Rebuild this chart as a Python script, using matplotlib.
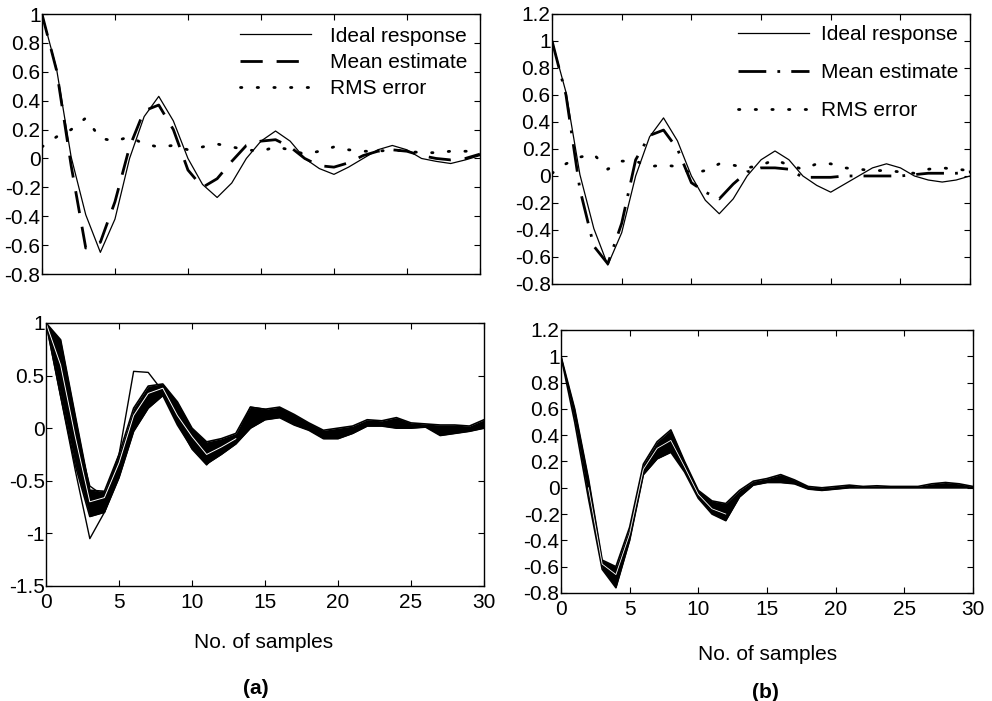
import matplotlib
matplotlib.use("Agg")
import matplotlib.pyplot as plt
from matplotlib.ticker import FormatStrFormatter, MultipleLocator

plt.rcParams['font.family'] = ['Liberation Sans', 'DejaVu Sans']
plt.rcParams['axes.unicode_minus'] = False

# sample index 0..30
n = list(range(31))

# ideal impulse response
ideal = [1.0, 0.62, 0.01, -0.39, -0.65, -0.42, 0.0, 0.29, 0.43, 0.26, 0.0,
         -0.18, -0.27, -0.17, 0.0, 0.12, 0.19, 0.12, 0.0, -0.07, -0.11,
         -0.06, 0.0, 0.06, 0.09, 0.06, 0.0, -0.02, -0.035, -0.01, 0.02]

# (a) mean estimate and RMS error
mean_a = [1.0, 0.61, -0.05, -0.62, -0.58, -0.3, 0.08, 0.33, 0.37, 0.2, -0.08,
          -0.2, -0.14, -0.02, 0.09, 0.12, 0.13, 0.08, 0.0, -0.05, -0.06,
          -0.03, 0.02, 0.05, 0.06, 0.05, 0.02, 0.0, -0.01, 0.0, 0.03]
rms_a = [0.08, 0.15, 0.2, 0.28, 0.14, 0.12, 0.15, 0.1, 0.08, 0.09, 0.06,
         0.08, 0.1, 0.08, 0.06, 0.05, 0.08, 0.06, 0.03, 0.05, 0.08,
         0.06, 0.05, 0.05, 0.06, 0.05, 0.04, 0.04, 0.05, 0.05, 0.05]

# (b) ideal, mean estimate and RMS error
ideal_b = [1.0, 0.62, 0.01, -0.39, -0.66, -0.42, 0.0, 0.29, 0.43, 0.26, 0.0,
           -0.18, -0.28, -0.17, 0.0, 0.12, 0.185, 0.12, 0.0, -0.07, -0.12,
           -0.06, 0.0, 0.06, 0.09, 0.06, 0.0, -0.03, -0.045, -0.03, 0.0]
mean_b = [1.0, 0.6, -0.1, -0.52, -0.65, -0.35, 0.12, 0.3, 0.34, 0.2, -0.05,
          -0.12, -0.17, -0.06, 0.03, 0.06, 0.06, 0.05, -0.01, -0.01, -0.01,
          0.0, 0.0, 0.0, 0.0, 0.0, 0.01, 0.02, 0.02, 0.02, 0.03]
rms_b = [0.02, 0.09, 0.14, 0.16, 0.05, 0.11, 0.11, 0.07, 0.08, 0.07, 0.02,
         0.04, 0.09, 0.08, 0.06, 0.08, 0.12, 0.08, 0.05, 0.09, 0.09,
         0.06, 0.05, 0.04, 0.04, 0.03, 0.02, 0.05, 0.06, 0.05, 0.04]

# (a) ensemble of individual estimates: band edges and a few stray runs
band_a_lo = [1.0, 0.31, -0.35, -0.84, -0.8, -0.47, -0.03, 0.19, 0.31, 0.03, -0.19,
             -0.34, -0.25, -0.15, 0.0, 0.08, 0.1, 0.03, -0.02, -0.1, -0.1,
             -0.05, 0.02, 0.02, 0.0, 0.0, 0.01, -0.07, -0.05, -0.03, 0.0]
band_a_hi = [1.0, 0.84, 0.12, -0.59, -0.6, -0.25, 0.19, 0.4, 0.42, 0.25, 0.0,
             -0.13, -0.1, -0.05, 0.2, 0.18, 0.2, 0.13, 0.05, -0.02, 0.0,
             0.02, 0.08, 0.07, 0.1, 0.05, 0.04, 0.03, 0.03, 0.02, 0.08]
stray_a1 = [1.0, 0.3, -0.4, -1.05, -0.8, -0.42, 0.05, 0.25, 0.38, 0.15, -0.1,
            -0.3, -0.2, -0.1, 0.1, 0.15, 0.15, 0.08, 0.0, -0.06, -0.05,
            -0.02, 0.04, 0.05, 0.06, 0.03, 0.02, -0.03, -0.02, -0.01, 0.05]
stray_a2 = [1.0, 0.7, 0.0, -0.55, -0.65, -0.25, 0.54, 0.53, 0.35, 0.05, -0.2,
            -0.35, -0.2, -0.1, 0.2, 0.18, 0.12, 0.06, 0.0, -0.06, -0.06,
            -0.02, 0.05, 0.05, 0.05, 0.02, 0.02, -0.03, -0.02, 0.0, 0.04]
white_a = [1.0, 0.6, -0.08, -0.7, -0.66, -0.33, 0.12, 0.33, 0.38, 0.12, -0.08,
           -0.25, -0.18, -0.1, 0.1, 0.13, 0.15, 0.08, 0.02, -0.05, -0.05,
           -0.02, 0.05, 0.05, 0.05, 0.03, 0.02, -0.02, -0.01, 0.0, 0.04]

# (b) ensemble band edges
band_b_lo = [1.0, 0.5, -0.08, -0.62, -0.76, -0.4, 0.1, 0.22, 0.27, 0.12, -0.08,
             -0.2, -0.25, -0.07, 0.02, 0.04, 0.04, 0.03, -0.01, -0.02, -0.01,
             0.0, 0.0, 0.0, 0.0, 0.0, 0.0, 0.0, 0.0, 0.0, 0.0]
band_b_hi = [1.0, 0.6, 0.07, -0.55, -0.6, -0.3, 0.18, 0.35, 0.44, 0.2, -0.02,
             -0.1, -0.12, -0.02, 0.05, 0.07, 0.1, 0.06, 0.01, 0.0, 0.01,
             0.02, 0.01, 0.015, 0.01, 0.01, 0.01, 0.03, 0.04, 0.03, 0.01]
white_b = [1.0, 0.55, 0.0, -0.58, -0.66, -0.35, 0.14, 0.3, 0.36, 0.16, -0.05,
           -0.16, -0.2, -0.05, 0.03, 0.05, 0.06, 0.04, 0.0, -0.01, 0.0,
           0.01, 0.005, 0.005, 0.005, 0.005, 0.005, 0.01, 0.02, 0.01, 0.005]

FS = 15


def style_axes(ax, yticks, ylim, xlabels=True):
    ax.set_xlim(0, 30)
    ax.set_ylim(*ylim)
    ax.set_yticks(yticks)
    ax.xaxis.set_major_locator(MultipleLocator(5))
    ax.yaxis.set_major_formatter(FormatStrFormatter('%g'))
    ax.tick_params(direction='in', top=True, right=True, length=4,
                   width=0.8, labelsize=FS)
    ax.tick_params(axis='y', pad=1)
    ax.tick_params(axis='x', pad=5)
    if not xlabels:
        ax.tick_params(labelbottom=False)
    for s in ax.spines.values():
        s.set_linewidth(1.0)


fig = plt.figure(figsize=(9.92, 7.01), dpi=100)

ax1 = fig.add_axes([0.0423, 0.6091, 0.4415, 0.3709])
ax2 = fig.add_axes([0.5565, 0.5949, 0.4214, 0.3852])
ax3 = fig.add_axes([0.0464, 0.1641, 0.4415, 0.3752])
ax4 = fig.add_axes([0.5655, 0.1541, 0.4153, 0.3752])

ticks_08_1 = [-0.8, -0.6, -0.4, -0.2, 0, 0.2, 0.4, 0.6, 0.8, 1]
ticks_08_12 = ticks_08_1 + [1.2]

# top left
ax1.plot(n, ideal, color='black', lw=0.9, label='Ideal response')
ax1.plot(n, mean_a, color='black', lw=2.0, dashes=(8, 5), label='Mean estimate')
ax1.plot(n, rms_a, color='black', lw=2.0, dashes=(0.5, 5.5), dash_capstyle='round',
         label='RMS error')
ax1.legend(loc='upper right', frameon=False, fontsize=FS, handlelength=3.4,
           handletextpad=0.9, labelspacing=0.35, borderaxespad=0.2)
style_axes(ax1, ticks_08_1, (-0.8, 1.0), xlabels=False)

# top right
ax2.plot(n, ideal_b, color='black', lw=0.9, label='Ideal response')
ax2.plot(n, mean_b, color='black', lw=2.0, dashes=(10, 4, 1, 4), label='Mean estimate')
ax2.plot(n, rms_b, color='black', lw=2.0, dashes=(0.5, 5.5), dash_capstyle='round',
         label='RMS error')
ax2.legend(loc='upper right', frameon=False, fontsize=FS, handlelength=3.4,
           handletextpad=0.6, labelspacing=0.9, borderaxespad=0.15)
style_axes(ax2, ticks_08_12, (-0.8, 1.2), xlabels=False)

# ensemble (a)
ax3.fill_between(n, band_a_lo, band_a_hi, color='black', lw=0)
ax3.plot(n, band_a_lo, color='black', lw=1.2)
ax3.plot(n, band_a_hi, color='black', lw=1.2)
ax3.plot(n, stray_a1, color='black', lw=1.0)
ax3.plot(n, stray_a2, color='black', lw=1.0)
ax3.plot(n[:14], white_a[:14], color='white', lw=0.7)
style_axes(ax3, [-1.5, -1, -0.5, 0, 0.5, 1], (-1.5, 1.0))

# ensemble (b)
ax4.fill_between(n, band_b_lo, band_b_hi, color='black', lw=0)
ax4.plot(n, band_b_lo, color='black', lw=1.2)
ax4.plot(n, band_b_hi, color='black', lw=1.2)
ax4.plot(n[2:13], white_b[2:13], color='white', lw=0.6)
style_axes(ax4, ticks_08_12, (-0.8, 1.2))

fig.text(0.2661, 1 - 642 / 701, 'No. of samples', ha='center', va='center', fontsize=FS)
fig.text(0.2580, 1 - 688 / 701, '(a)', ha='center', va='center', fontsize=FS, weight='bold')
fig.text(0.7742, 1 - 655 / 701, 'No. of samples', ha='center', va='center', fontsize=FS)
fig.text(0.7712, 1 - 692 / 701, '(b)', ha='center', va='center', fontsize=FS, weight='bold')

fig.savefig('out.png', dpi=100)
